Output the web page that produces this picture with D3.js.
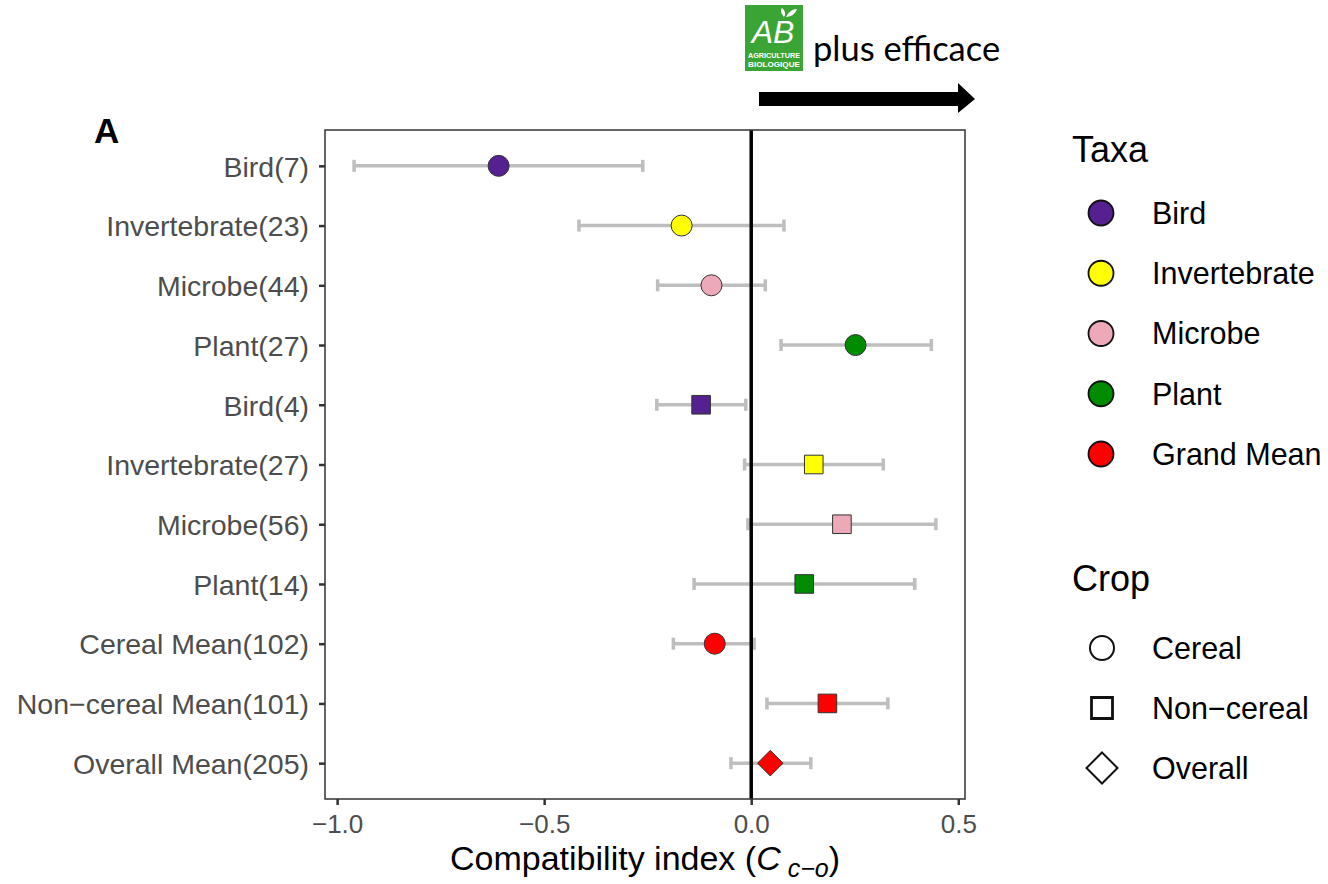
<!DOCTYPE html>
<html>
<head>
<meta charset="utf-8">
<script src="https://cdn.jsdelivr.net/npm/d3@7"></script>
<style>
  html, body { margin: 0; padding: 0; background: #ffffff; }
  svg { display: block; }
</style>
</head>
<body>
<svg id="chart" width="1328" height="884"></svg>
<script>
// Row labels, top to bottom
const rowLabels = [
  "Bird(7)", "Invertebrate(23)", "Microbe(44)", "Plant(27)",
  "Bird(4)", "Invertebrate(27)", "Microbe(56)", "Plant(14)",
  "Cereal Mean(102)", "Non-cereal Mean(101)", "Overall Mean(205)"
];
const rowTaxa = [
  "Bird", "Invertebrate", "Microbe", "Plant",
  "Bird", "Invertebrate", "Microbe", "Plant",
  "Grand Mean", "Grand Mean", "Grand Mean"
];
const rowCrop = [
  "Cereal", "Cereal", "Cereal", "Cereal",
  "Non-cereal", "Non-cereal", "Non-cereal", "Non-cereal",
  "Cereal", "Non-cereal", "Overall"
];
// Compatibility index estimates with confidence bounds
const estimate = [-0.610, -0.168, -0.096, 0.252, -0.121, 0.151, 0.219, 0.128, -0.088, 0.184, 0.046];
const lower    = [-0.959, -0.416, -0.226, 0.072, -0.228, -0.016, -0.008, -0.138, -0.188, 0.038, -0.049];
const upper    = [-0.262, 0.079, 0.034, 0.435, -0.013, 0.319, 0.446, 0.395, 0.007, 0.330, 0.144];

const xTicks = [-1.0, -0.5, 0.0, 0.5];
const taxaLevels = ["Bird", "Invertebrate", "Microbe", "Plant", "Grand Mean"];
const taxaColors = ["#55208f", "#ffff00", "#eea9b8", "#008b00", "#ff0000"];
const cropLevels = ["Cereal", "Non-cereal", "Overall"];

const rows = rowLabels.map((label, i) => ({
  label, taxa: rowTaxa[i], crop: rowCrop[i],
  est: estimate[i], lo: lower[i], hi: upper[i]
}));

const svg = d3.select("#chart");
const FONT = "'Liberation Sans', Arial, sans-serif";

const panel = { left: 325, right: 965, top: 130, bottom: 799 };

// x: extend the data range by 5% on each side
const xmin = d3.min(lower), xmax = d3.max(upper);
const pad = (xmax - xmin) * 0.05;
const x = d3.scaleLinear().domain([xmin - pad, xmax + pad]).range([panel.left, panel.right]);

const y = d3.scalePoint().domain(rowLabels).range([panel.top, panel.bottom]).padding(0.6);

const colour = d3.scaleOrdinal().domain(taxaLevels).range(taxaColors);

// Marker paths: circle, square, and a square standing on its corner
function marker(crop, s) {
  if (crop === "Cereal") return d3.symbol().type(d3.symbolCircle).size(Math.PI * s * s)();
  if (crop === "Non-cereal") return `M${-s},${-s}H${s}V${s}H${-s}Z`;
  return `M0,${-s}L${s},0L0,${s}L${-s},0Z`;
}
const pointSize = { "Cereal": 10.5, "Non-cereal": 9.3, "Overall": 12.8 };

// Error bars
const eb = svg.append("g").attr("stroke", "#bebebe").attr("stroke-width", 3.5);
rows.forEach(d => {
  const yy = y(d.label);
  eb.append("line").attr("x1", x(d.lo)).attr("x2", x(d.hi)).attr("y1", yy).attr("y2", yy);
  [d.lo, d.hi].forEach(v => {
    eb.append("line").attr("x1", x(v)).attr("x2", x(v)).attr("y1", yy - 6).attr("y2", yy + 6);
  });
});

// Reference line at zero
svg.append("line")
  .attr("x1", x(0)).attr("x2", x(0))
  .attr("y1", panel.top).attr("y2", panel.bottom)
  .attr("stroke", "#000").attr("stroke-width", 3.5);

// Points
svg.append("g").selectAll("path").data(rows).join("path")
  .attr("transform", d => `translate(${x(d.est)},${y(d.label)})`)
  .attr("d", d => marker(d.crop, pointSize[d.crop]))
  .attr("fill", d => colour(d.taxa))
  .attr("stroke", "#333")
  .attr("stroke-width", 1);

// Panel border
svg.append("rect")
  .attr("x", panel.left).attr("y", panel.top)
  .attr("width", panel.right - panel.left).attr("height", panel.bottom - panel.top)
  .attr("fill", "none").attr("stroke", "#333").attr("stroke-width", 1.5);

// Axes
const xAxis = svg.append("g")
  .attr("transform", `translate(0,${panel.bottom})`)
  .call(d3.axisBottom(x).tickValues(xTicks).tickSizeOuter(0).tickSize(6).tickPadding(10));
xAxis.select(".domain").remove();
xAxis.selectAll(".tick line").attr("stroke", "#333").attr("stroke-width", 2.5);
xAxis.selectAll(".tick text")
  .attr("font-family", FONT).attr("font-size", 26).attr("fill", "#4d4d4d")
  .text(d => d3.format(".1f")(d).replace("-", "\u2212"));

const yAxis = svg.append("g")
  .attr("transform", `translate(${panel.left},0)`)
  .call(d3.axisLeft(y).tickSizeOuter(0).tickSize(6).tickPadding(10));
yAxis.select(".domain").remove();
yAxis.selectAll(".tick line").attr("stroke", "#333").attr("stroke-width", 2.5);
yAxis.selectAll(".tick text")
  .attr("font-family", FONT).attr("font-size", 28.5).attr("fill", "#4d4d4d")
  .attr("dy", "0.36em")
  .text(d => d.replace("-", "\u2212"));

// Axis title
const xt = svg.append("text")
  .attr("x", (panel.left + panel.right) / 2).attr("y", 870)
  .attr("text-anchor", "middle")
  .attr("font-family", FONT).attr("font-size", 34).attr("fill", "#000");
xt.append("tspan").text("Compatibility index (");
xt.append("tspan").attr("font-style", "italic").text("C");
xt.append("tspan").attr("font-style", "italic").attr("font-size", 25).attr("dy", 7).text(" c\u2212o");
xt.append("tspan").attr("dy", -7).text(")");

// Panel tag
svg.append("text").attr("x", 94).attr("y", 143)
  .attr("font-family", FONT).attr("font-size", 35).attr("font-weight", "bold").text("A");

// Legend: Taxa
const lg = svg.append("g");
lg.append("text").attr("x", 1072).attr("y", 162)
  .attr("font-family", FONT).attr("font-size", 36).text("Taxa");
const taxaY = d3.scalePoint().domain(taxaLevels).range([213, 454]);
taxaLevels.forEach(t => {
  lg.append("circle").attr("cx", 1101).attr("cy", taxaY(t)).attr("r", 12.5)
    .attr("fill", colour(t)).attr("stroke", "#111").attr("stroke-width", 1.8);
  lg.append("text").attr("x", 1152).attr("y", taxaY(t)).attr("dy", "0.36em")
    .attr("font-family", FONT).attr("font-size", 30.5).text(t);
});

// Legend: Crop
lg.append("text").attr("x", 1072).attr("y", 591)
  .attr("font-family", FONT).attr("font-size", 36).text("Crop");
const cropY = d3.scalePoint().domain(cropLevels).range([648, 768]);
const legendSize = { "Cereal": 12, "Non-cereal": 10.5, "Overall": 15.5 };
cropLevels.forEach(c => {
  lg.append("path")
    .attr("transform", `translate(1102,${cropY(c)})`)
    .attr("d", marker(c, legendSize[c]))
    .attr("fill", "none").attr("stroke", "#111").attr("stroke-width", c === "Non-cereal" ? 2.8 : 2);
  lg.append("text").attr("x", 1152).attr("y", cropY(c)).attr("dy", "0.36em")
    .attr("font-family", FONT).attr("font-size", 30.5).text(c.replace("-", "\u2212"));
});

// Organic label badge and direction arrow
const badge = svg.append("g").attr("transform", "translate(745,5)");
badge.append("rect").attr("width", 58).attr("height", 66).attr("fill", "#3aa535");
badge.append("text").attr("x", 28).attr("y", 38).attr("text-anchor", "middle")
  .attr("font-family", FONT).attr("font-size", 32).attr("fill", "#fff")
  .attr("font-style", "italic").text("AB");
badge.append("path").attr("d", "M41,12 q4,-8 11,-8 q-2,7 -11,8 z M39,12 q-5,-6 -2,-9 q5,4 2,9 z")
  .attr("fill", "#fff");
badge.append("text").attr("x", 29).attr("y", 53).attr("text-anchor", "middle")
  .attr("font-family", FONT).attr("font-size", 7).attr("font-weight", "bold").attr("fill", "#fff")
  .attr("textLength", 52).attr("lengthAdjust", "spacingAndGlyphs").text("AGRICULTURE");
badge.append("text").attr("x", 29).attr("y", 62).attr("text-anchor", "middle")
  .attr("font-family", FONT).attr("font-size", 7).attr("font-weight", "bold").attr("fill", "#fff")
  .attr("textLength", 52).attr("lengthAdjust", "spacingAndGlyphs").text("BIOLOGIQUE");

svg.append("text").attr("x", 813).attr("y", 61)
  .attr("font-family", "Lato, 'Open Sans', sans-serif").attr("font-size", 34.5).attr("fill", "#000")
  .text("plus efficace");

svg.append("path")
  .attr("d", "M759,92 L958,92 L958,83 L975,99 L958,113 L958,106 L759,106 Z")
  .attr("fill", "#000");
</script>
</body>
</html>
